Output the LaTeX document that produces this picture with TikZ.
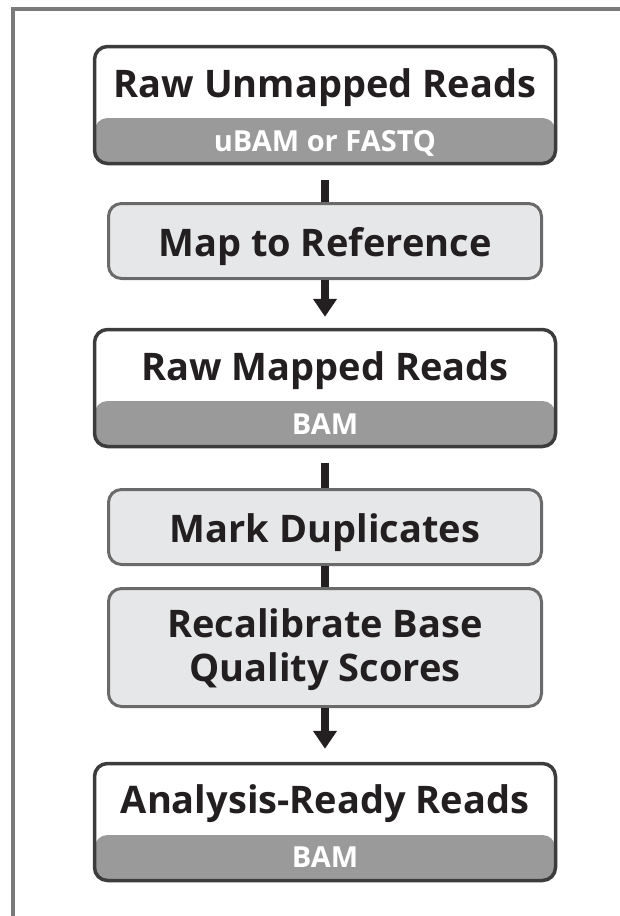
\documentclass[tikz,border=0pt]{standalone}
\usepackage{fontspec}
\setmainfont{Open Sans}
\usepackage{tikz}
\usetikzlibrary{positioning, arrows.meta}

\definecolor{framegray}{HTML}{7A7A7A}
\definecolor{boxdark}{HTML}{3C3C3C}
\definecolor{boxmid}{HTML}{6A6A6A}
\definecolor{stepfill}{HTML}{E6E7E8}
\definecolor{bandgray}{HTML}{9A9A9A}
\definecolor{inkdark}{HTML}{231F20}

\tikzset{
  databox/.style={draw=boxdark, line width=3.5pt, rounded corners=13pt, fill=white,
    minimum width=461pt, minimum height=117pt, inner sep=0pt,
    path picture={\fill[bandgray] (path picture bounding box.south west)
      rectangle ([yshift=45.5pt]path picture bounding box.south east);}},
  stepbox/.style={draw=boxmid, line width=3pt, rounded corners=13pt, fill=stepfill,
    minimum width=433pt, inner sep=0pt},
  headtext/.style={anchor=base, text=inkdark, font=\fontsize{38}{44}\selectfont\bfseries},
  subtext/.style={anchor=base, text=white, font=\fontsize{29}{33}\selectfont\bfseries},
  link/.style={draw=inkdark, line width=8pt},
  flow/.style={link, -{Triangle[width=23pt,length=18pt]}},
}

\begin{document}
\begin{tikzpicture}[x=1pt, y=-1pt]
\useasboundingbox (0,0) rectangle (620,916);
% frame
\draw[framegray, line width=3.5pt] (13,916) -- (13,9) -- (620,9);
% raw unmapped reads
\node[databox] (unmapped) at (325,105) {};
\node[headtext] (unmappedtitle) at (325,97) {Raw Unmapped Reads};
\node[subtext] (unmappedfmt) at (325,151) {uBAM or FASTQ};
% map to reference
\node[stepbox, minimum height=75pt] (mapref) at (325,241) {};
\node[headtext] (mapreftext) at (325,256) {Map to Reference};
% raw mapped reads
\node[databox] (mapped) at (325,388) {};
\node[headtext] (mappedtitle) at (325,380) {Raw Mapped Reads};
\node[subtext] (mappedfmt) at (325,434) {BAM};
% mark duplicates
\node[stepbox, minimum height=75pt] (markdup) at (325,527) {};
\node[headtext] (markduptext) at (325,542) {Mark Duplicates};
% recalibrate
\node[stepbox, minimum height=118pt] (recal) at (325,647.5) {};
\node[headtext, anchor=center, align=center] (recaltext) at (325,650) {Recalibrate Base\\Quality Scores};
% analysis-ready reads
\node[databox] (ready) at (325,822) {};
\node[headtext] (readytitle) at (325,813) {Analysis-Ready Reads};
\node[subtext] (readyfmt) at (325,867) {BAM};
% connectors
\draw[link] ([yshift=-15pt]unmapped.south) -- (mapref.north);
\draw[flow, shorten >=11pt] (mapref.south) -- (mapped.north);
\draw[link] ([yshift=-15pt]mapped.south) -- (markdup.north);
\draw[link] (markdup.south) -- (recal.north);
\draw[flow, shorten >=13pt] (recal.south) -- (ready.north);
\end{tikzpicture}
\end{document}
